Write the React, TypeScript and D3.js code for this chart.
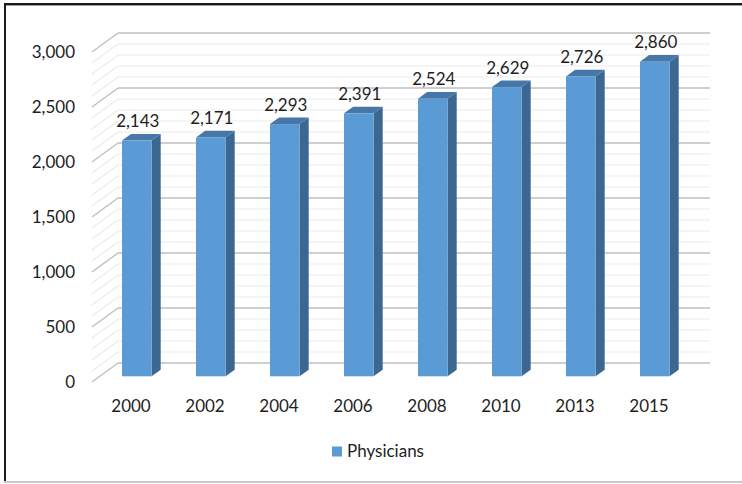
import * as d3 from 'd3'
import { useEffect, useRef } from 'react'

const years = ['2000', '2002', '2004', '2006', '2008', '2010', '2013', '2015']
const physicians = [2143, 2171, 2293, 2391, 2524, 2629, 2726, 2860]
const yTicks = [0, 500, 1000, 1500, 2000, 2500, 3000]
const seriesName = 'Physicians'

const W = 742
const H = 484

export default function App() {
    const svgRef = useRef(null) as any

    useEffect(() => {
        const svg = d3.select(svgRef.current)
        svg.selectAll('*').remove()

        const font = 'Lato, "Open Sans", sans-serif'
        const fs = 17
        const textColor = '#1e1e1e'

        // front plane of the 3d box and the depth offset to the back wall
        const depthX = 26
        const depthY = -19
        const floorLeft = 92
        const floorRight = 684

        const yScale = d3.scaleLinear().domain([0, 3000]).range([382, 52])
        const xScale = d3.scaleBand()
            .domain(years)
            .range([floorLeft, floorRight])
            .paddingInner(0.6)
            .paddingOuter(0.3)

        // chart frame
        svg.append('rect').attr('x', 0).attr('y', 0).attr('width', W).attr('height', H).attr('fill', '#fff')
        svg.append('line').attr('x1', 4).attr('x2', W).attr('y1', 4).attr('y2', 4)
            .attr('stroke', '#1a1a1a').attr('stroke-width', 2)
        svg.append('line').attr('x1', 4).attr('x2', W).attr('y1', 5.5).attr('y2', 5.5)
            .attr('stroke', '#9a9a9a').attr('stroke-width', 1)
        svg.append('line').attr('x1', 5).attr('x2', 5).attr('y1', 3).attr('y2', 482)
            .attr('stroke', '#1a1a1a').attr('stroke-width', 2)
        svg.append('line').attr('x1', 4).attr('x2', W).attr('y1', 482).attr('y2', 482)
            .attr('stroke', '#c8c8c8').attr('stroke-width', 2)

        // gridlines: back wall + side wall diagonals
        const grid = svg.append('g')
        const minor = d3.range(0, 3001, 100)
        minor.forEach(v => {
            const major = v % 500 === 0
            const y = yScale(v)
            const col = major ? '#bfbfbf' : '#ebebeb'
            const sw = major ? 1.4 : 1.2
            grid.append('line')
                .attr('x1', floorLeft + depthX).attr('x2', floorRight + depthX)
                .attr('y1', y + depthY).attr('y2', y + depthY)
                .attr('stroke', col).attr('stroke-width', sw)
            grid.append('line')
                .attr('x1', floorLeft).attr('x2', floorLeft + depthX)
                .attr('y1', y).attr('y2', y + depthY)
                .attr('stroke', col).attr('stroke-width', sw)
        })

        // y axis labels
        svg.append('g').selectAll('text')
            .data(yTicks)
            .enter().append('text')
            .attr('x', 75)
            .attr('y', d => yScale(d) + 2)
            .attr('text-anchor', 'end')
            .attr('dominant-baseline', 'middle')
            .attr('font-family', font)
            .attr('font-size', fs)
            .attr('fill', textColor)
            .text(d => d3.format(',')(d))

        // 3d bars
        const f1 = 0.3
        const f2 = 0.65
        const ox = depthX * f1
        const oy = depthY * f1
        const bx = depthX * (f2 - f1)
        const by = depthY * (f2 - f1)
        const bw = xScale.bandwidth()

        const data = years.map((y, i) => ({ year: y, value: physicians[i] }))
        const bars = svg.append('g')
        data.forEach(d => {
            const x0 = (xScale(d.year) as number) + ox
            const x1 = x0 + bw
            const yb = yScale(0) + oy
            const yt = yScale(d.value) + oy
            // side
            bars.append('path')
                .attr('d', `M${x1},${yt}L${x1 + bx},${yt + by}L${x1 + bx},${yb + by}L${x1},${yb}Z`)
                .attr('fill', '#3b6791')
            // top
            bars.append('path')
                .attr('d', `M${x0},${yt}L${x0 + bx},${yt + by}L${x1 + bx},${yt + by}L${x1},${yt}Z`)
                .attr('fill', '#4677a8')
            // front
            bars.append('rect')
                .attr('x', x0).attr('y', yt)
                .attr('width', bw).attr('height', yb - yt)
                .attr('fill', '#5b9bd5')
            // value label
            bars.append('text')
                .attr('x', x0 + bw / 2 + 1)
                .attr('y', yt - 13.5)
                .attr('text-anchor', 'middle')
                .attr('font-family', font)
                .attr('font-size', fs)
                .attr('fill', textColor)
                .text(d3.format(',')(d.value))
        })

        // category labels
        svg.append('g').selectAll('text')
            .data(years)
            .enter().append('text')
            .attr('x', d => (xScale(d) as number) + bw / 2 + 2)
            .attr('y', 412)
            .attr('text-anchor', 'middle')
            .attr('font-family', font)
            .attr('font-size', fs)
            .attr('fill', textColor)
            .text(d => d)

        // legend
        const lg = svg.append('g')
        lg.append('rect').attr('x', 332).attr('y', 446.5).attr('width', 10).attr('height', 10).attr('fill', '#5b9bd5')
        lg.append('text')
            .attr('x', 347)
            .attr('y', 456.5)
            .attr('font-family', font)
            .attr('font-size', fs)
            .attr('fill', textColor)
            .text(seriesName)
    }, [])

    return (
        <div style={{ position: 'fixed', left: 0, top: 0 }}>
            <svg ref={svgRef} width={W} height={H} style={{ display: 'block' }} />
        </div>
    )
}
